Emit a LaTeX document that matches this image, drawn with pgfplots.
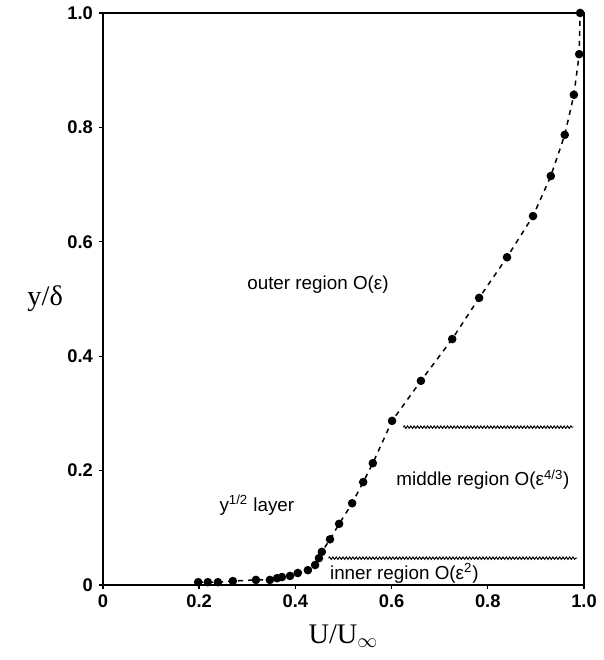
\documentclass[border=0pt]{standalone}
\usepackage{fontspec}
\setmainfont{Liberation Sans}
\newfontfamily\serif{Liberation Serif}
\usepackage{pgfplots}
\pgfplotsset{compat=1.18}
\usetikzlibrary{decorations.pathmorphing}
\begin{document}
\begin{tikzpicture}
\begin{axis}[
  scale only axis,
  width=288.6pt, height=343.2pt,
  xmin=0, xmax=1, ymin=0, ymax=1,
  axis line style={line width=1pt},
  xtick={0,0.2,0.4,0.6,0.8,1.0},
  ytick={0,0.2,0.4,0.6,0.8,1.0},
  xticklabels={0,0.2,0.4,0.6,0.8,1.0},
  yticklabels={0,0.2,0.4,0.6,0.8,1.0},
  tick align=outside,
  xtick pos=bottom, ytick pos=left,
  major tick length=2.5pt,
  tick style={line width=0.8pt, black},
  ticklabel style={font=\fontsize{11}{13}\selectfont\bfseries},
  xlabel={\serif\fontsize{17}{19}\selectfont U/U$_{\infty}$},
  ylabel={\serif\fontsize{17}{19}\selectfont y/δ},
  ylabel style={rotate=-90, at={(ticklabel cs:0.5)}, anchor=center, xshift=-10pt},
  xlabel style={at={(ticklabel cs:0.5)}, anchor=north, yshift=-3pt},
  clip=false,
]
\addplot[black, dashed, line width=0.9pt, mark=*, mark size=2.1pt, mark options={solid, fill=black}] coordinates {
(0.198,0.005) (0.218,0.005) (0.239,0.005) (0.270,0.007) (0.318,0.009)
(0.347,0.009) (0.362,0.012) (0.372,0.014) (0.389,0.016) (0.405,0.021)
(0.426,0.026) (0.441,0.035) (0.449,0.047) (0.455,0.058) (0.472,0.080)
(0.491,0.107) (0.518,0.143) (0.541,0.180) (0.561,0.213) (0.601,0.287)
(0.661,0.357) (0.726,0.430) (0.782,0.502) (0.840,0.573) (0.894,0.645)
(0.931,0.715) (0.960,0.787) (0.979,0.857) (0.990,0.928) (0.992,1.000)
};
\addplot[black, line width=0.6pt, decorate, decoration={snake, amplitude=0.7pt, segment length=2pt}] coordinates {(0.624,0.276) (0.978,0.276)};
\addplot[black, line width=0.6pt, decorate, decoration={snake, amplitude=0.7pt, segment length=2pt}] coordinates {(0.469,0.047) (0.985,0.047)};
\node[font=\fontsize{11.3}{13}\selectfont] at (axis cs:0.447,0.526) {outer region O(ε)};
\node[font=\fontsize{11.3}{13}\selectfont] at (axis cs:0.32,0.14) {y\textsuperscript{1/2} layer};
\node[font=\fontsize{11.3}{13}\selectfont] at (axis cs:0.79,0.184) {middle region O(ε\textsuperscript{4/3})};
\node[font=\fontsize{11.3}{13}\selectfont, anchor=west, inner sep=1pt] at (axis cs:0.468,0.021) {inner region O(ε\textsuperscript{2})};
\path (axis cs:-0.214,-0.131) rectangle (axis cs:1.0395,1.0227);
\end{axis}
\end{tikzpicture}
\end{document}
